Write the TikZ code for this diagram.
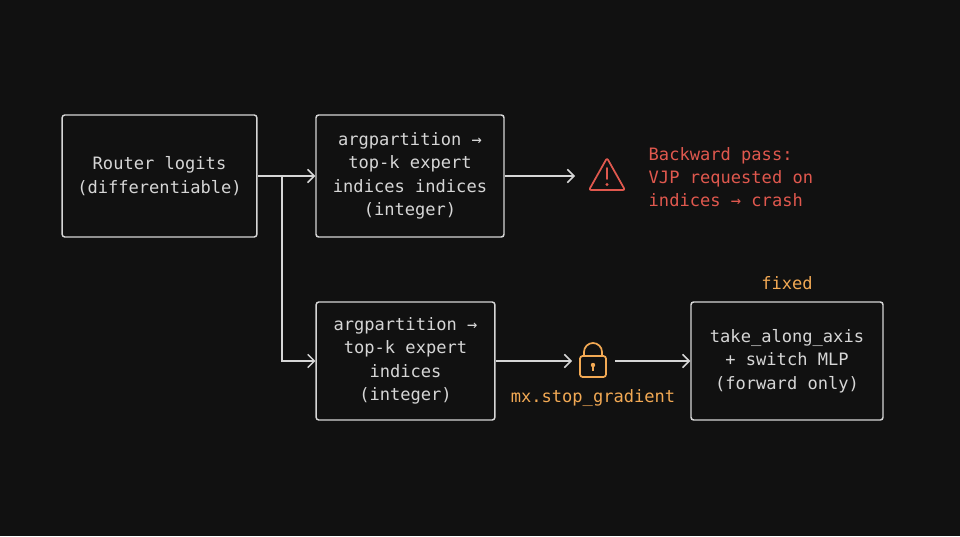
\documentclass[tikz,border=0pt]{standalone}
\usepackage{fontspec}
\setmonofont{DejaVu Sans Mono}
\usetikzlibrary{arrows.meta,positioning}
\definecolor{bgdark}{HTML}{111111}
\definecolor{linegray}{HTML}{D6D6D6}
\definecolor{warnred}{HTML}{E0584E}
\definecolor{fixorange}{HTML}{F2A954}
\tikzset{
  stage/.style={draw=linegray, line width=1.1pt, rounded corners=2pt, text=linegray, align=center, inner sep=0pt},
  flow/.style={linegray, line width=1.1pt, -{Straight Barb[length=5pt,width=10pt]}},
}
\begin{document}
\begin{tikzpicture}[x=0.75pt, y=-0.75pt, font=\ttfamily\fontsize{12.8}{17.5}\selectfont]
		\fill [bgdark] (0,0) rectangle (960,536);

		% boxes
		\node (router) at (159.5,176) [stage, minimum width=146pt, minimum height=91.5pt] {Router logits\\(differentiable)};
		\node (naive) at (410,176) [stage, minimum width=141pt, minimum height=91.5pt] {argpartition →\\top-k expert\\indices indices\\(integer)};
		\node (safe) at (405.5,361) [stage, minimum width=134pt, minimum height=88.5pt] {argpartition →\\top-k expert\\indices\\(integer)};
		\node (take) at (787,361) [stage, minimum width=144pt, minimum height=88.5pt] {take\_along\_axis\\+ switch MLP\\(forward only)};

		% warning
		\node (warn) at (607,175) {};
		\draw [warnred, line width=1.3pt, line join=round, rounded corners=1.5pt] (607,158) -- (625,190) -- (589,190) -- cycle;
		\draw [warnred, line width=1.3pt, line cap=round] (607,168) -- (607,179);
		\fill [warnred] (607,184.5) circle (1.6);
		\node (crash) [anchor=west, text=warnred, align=left] at (644,177) {Backward pass:\\VJP requested on\\indices → crash};

		% lock
		\node (lock) at (593,361) {};
		\draw [fixorange, line width=1.3pt] (584,356) -- (584,352) arc (180:360:9) -- (602,356);
		\draw [fixorange, line width=1.3pt, rounded corners=2pt] (580,356) rectangle (606,377);
		\fill [fixorange] (593,365) circle (2.2);
		\draw [fixorange, line width=1.3pt] (593,365) -- (593,371);
		\node (stopgrad) [text=fixorange] at (593,398) {mx.stop\_gradient};
		\node (fixed) [text=fixorange] at (787,283) {fixed};

		% connectors
		\coordinate (split) at (282,176);
		\coordinate (lockin) at (572,361);
		\coordinate (lockout) at (615,361);
		\draw [flow] (router.east) -- (naive.west);
		\draw [flow] (split) |- (safe.west);
		\draw [flow] (naive.east) -- (575,176);
		\draw [flow] (safe.east) -- (lockin);
		\draw [flow] (lockout) -- (take.west);
	\end{tikzpicture}
\end{document}
